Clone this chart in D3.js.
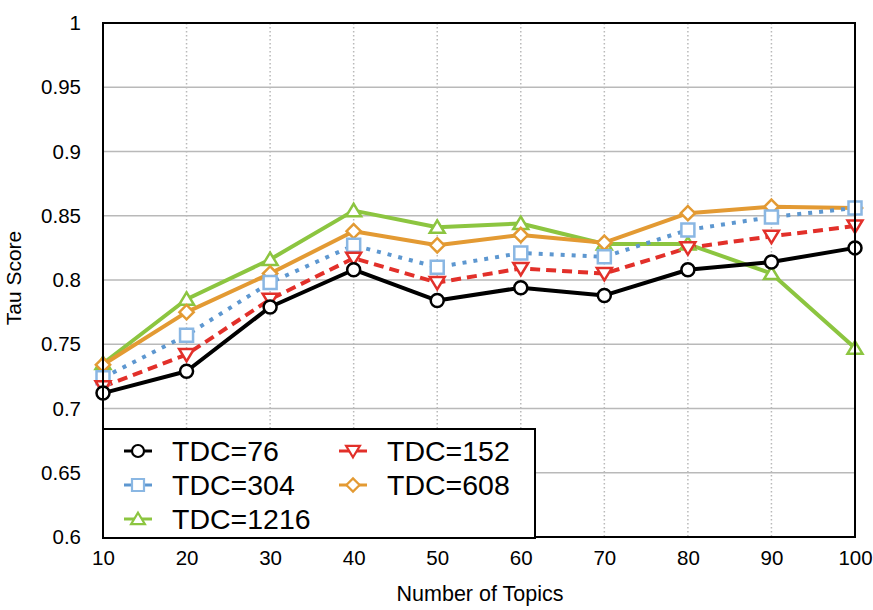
<!DOCTYPE html>
<html>
<head>
<meta charset="utf-8">
<script src="https://cdn.jsdelivr.net/npm/d3@7"></script>
<style>
  body { margin: 0; background: #fff; }
  text { font-family: "Liberation Sans", Arial, Helvetica, sans-serif; fill: #000; }
</style>
</head>
<body>
<div id="chart"></div>
<script>
// data
var topics = [10, 20, 30, 40, 50, 60, 70, 80, 90, 100];
var yTicks = [0.6, 0.65, 0.7, 0.75, 0.8, 0.85, 0.9, 0.95, 1];

var tdc76   = [0.712, 0.729, 0.779, 0.808, 0.784, 0.794, 0.788, 0.808, 0.814, 0.825];
var tdc152  = [0.717, 0.742, 0.785, 0.817, 0.798, 0.809, 0.805, 0.825, 0.834, 0.842];
var tdc304  = [0.724, 0.757, 0.798, 0.827, 0.810, 0.821, 0.818, 0.839, 0.849, 0.856];
var tdc608  = [0.734, 0.775, 0.805, 0.838, 0.827, 0.835, 0.829, 0.852, 0.857, 0.856];
var tdc1216 = [0.735, 0.785, 0.816, 0.854, 0.841, 0.844, 0.828, 0.828, 0.805, 0.747];

var series = [
    {name: "TDC=76",   values: tdc76,   line: "#000000", mark: "#000000", shape: "circle",  dash: null},
    {name: "TDC=152",  values: tdc152,  line: "#e2302a", mark: "#e2302a", shape: "tridown", dash: "10,6"},
    {name: "TDC=304",  values: tdc304,  line: "#5d97d0", mark: "#8ab7e3", shape: "square",  dash: "4,7"},
    {name: "TDC=608",  values: tdc608,  line: "#e39a33", mark: "#e39a33", shape: "diamond", dash: null},
    {name: "TDC=1216", values: tdc1216, line: "#8cc540", mark: "#8cc540", shape: "triup",   dash: null}
];

var margin = {top: 23, right: 18, bottom: 73, left: 103},
        width = 873 - margin.left - margin.right,
        height = 610 - margin.top - margin.bottom;

var x = d3.scaleLinear().domain([10, 100]).range([0, width]);
var y = d3.scaleLinear().domain([0.6, 1]).range([height, 0]);

var svg = d3.select("#chart").append("svg")
        .attr("width", 873)
        .attr("height", 610)
        .append("g")
        .attr("transform", "translate(" + margin.left + "," + margin.top + ")");

// grid
svg.append("g").selectAll("line.h")
        .data(yTicks.slice(1, -1))
        .enter().append("line")
        .attr("x1", 0).attr("x2", width)
        .attr("y1", function(d) { return y(d); })
        .attr("y2", function(d) { return y(d); })
        .attr("stroke", "#b9b9b9")
        .attr("stroke-width", 1.5);

svg.append("g").selectAll("line.v")
        .data(topics.slice(1, -1))
        .enter().append("line")
        .attr("y1", 0).attr("y2", height)
        .attr("x1", function(d) { return x(d); })
        .attr("x2", function(d) { return x(d); })
        .attr("stroke", "#b9b9b9")
        .attr("stroke-width", 1.5)
        .attr("stroke-dasharray", "1.5,2.5");

// axes (labels only, frame drawn below)
var yAxis = d3.axisLeft(y).tickValues(yTicks).tickSize(0).tickPadding(22)
        .tickFormat(function(d) { return d3.format("")(+d.toFixed(2)); });
var xAxis = d3.axisBottom(x).tickValues(topics).tickSize(0).tickPadding(13);

var gy = svg.append("g").call(yAxis);
var gx = svg.append("g").attr("transform", "translate(0," + height + ")").call(xAxis);
[gx, gy].forEach(function(g) {
    g.select(".domain").remove();
    g.selectAll("text").style("font-size", "20.5px").attr("font-family", null);
});

svg.append("text")
        .attr("x", width / 2 + 1)
        .attr("y", height + 64)
        .attr("text-anchor", "middle")
        .style("font-size", "21.5px")
        .text("Number of Topics");

svg.append("text")
        .attr("transform", "translate(-82," + (height / 2 - 2) + ") rotate(-90)")
        .attr("text-anchor", "middle")
        .style("font-size", "21px")
        .text("Tau Score");

function symbolPath(shape, s) {
    var h = s / 2;
    if (shape === "circle") return d3.symbol(d3.symbolCircle, Math.PI * h * h)();
    if (shape === "square") return "M" + (-h) + "," + (-h) + "H" + h + "V" + h + "H" + (-h) + "Z";
    if (shape === "diamond") return "M0," + (-h * 1.1) + "L" + (h * 1.1) + ",0L0," + (h * 1.1) + "L" + (-h * 1.1) + ",0Z";
    if (shape === "triup") return "M0," + (-h * 1.05) + "L" + (h * 1.15) + "," + (h * 0.85) + "L" + (-h * 1.15) + "," + (h * 0.85) + "Z";
    return "M0," + (h * 1.05) + "L" + (h * 1.15) + "," + (-h * 0.85) + "L" + (-h * 1.15) + "," + (-h * 0.85) + "Z";
}

var line = d3.line()
        .x(function(d, i) { return x(topics[i]); })
        .y(function(d) { return y(d); });

var drawOrder = series.slice().reverse();

svg.append("g").selectAll("path")
        .data(drawOrder)
        .enter().append("path")
        .attr("d", function(d) { return line(d.values); })
        .attr("fill", "none")
        .attr("stroke", function(d) { return d.line; })
        .attr("stroke-width", 4)
        .attr("stroke-linejoin", "round")
        .attr("stroke-dasharray", function(d) { return d.dash; });

drawOrder.forEach(function(s) {
    svg.append("g").selectAll("path")
            .data(s.values)
            .enter().append("path")
            .attr("transform", function(d, i) { return "translate(" + x(topics[i]) + "," + y(d) + ")"; })
            .attr("d", symbolPath(s.shape, 13))
            .attr("fill", "#fff")
            .attr("stroke", s.mark)
            .attr("stroke-width", 2.5);
});

// frame
svg.append("rect")
        .attr("width", width)
        .attr("height", height)
        .attr("fill", "none")
        .attr("stroke", "#000")
        .attr("stroke-width", 2);

// legend
var legend = svg.append("g").attr("transform", "translate(0," + (height - 108) + ")");
legend.append("rect")
        .attr("width", 432)
        .attr("height", 109)
        .attr("fill", "#fff")
        .attr("stroke", "#000")
        .attr("stroke-width", 2);

var item = legend.selectAll("g.item")
        .data(series)
        .enter().append("g")
        .attr("transform", function(d, i) {
            return "translate(" + (i % 2 === 0 ? 35 : 250) + "," + (22 + Math.floor(i / 2) * 34) + ")";
        });

item.append("line")
        .attr("x1", -14).attr("x2", 14)
        .attr("stroke", function(d) { return d.line; })
        .attr("stroke-width", 3);

item.append("path")
        .attr("d", function(d) { return symbolPath(d.shape, 12); })
        .attr("fill", "#fff")
        .attr("stroke", function(d) { return d.mark; })
        .attr("stroke-width", 2.2);

item.append("text")
        .attr("x", 34)
        .attr("dy", "0.36em")
        .style("font-size", "28.5px")
        .text(function(d) { return d.name; });
</script>
</body>
</html>
